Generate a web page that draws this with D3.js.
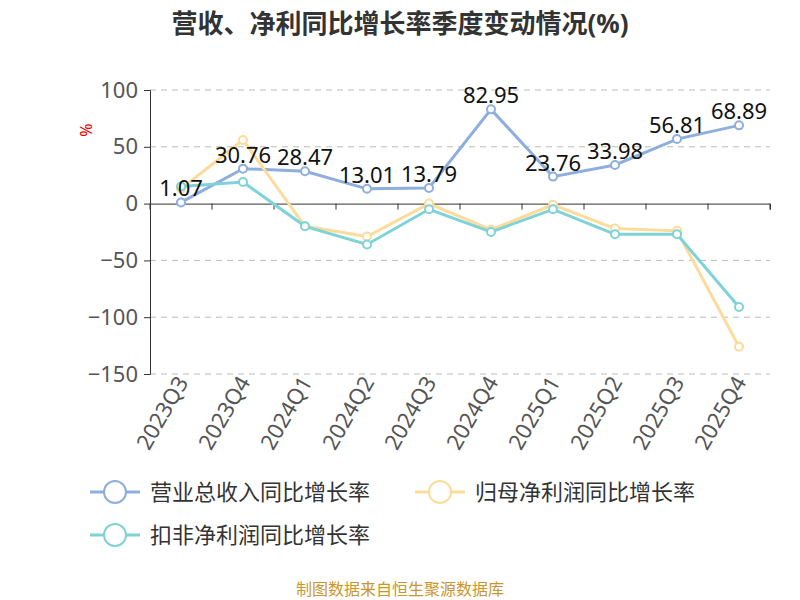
<!DOCTYPE html>
<html><head><meta charset="utf-8">
<script src="https://cdn.jsdelivr.net/npm/d3@7"></script>
<style>body{margin:0;background:#fff}text{font-family:"Noto Sans","Noto Sans CJK SC",sans-serif}</style>
</head><body><svg id="c" width="800" height="600"></svg>
<script>
const quarters = ['2023Q3','2023Q4','2024Q1','2024Q2','2024Q3','2024Q4','2025Q1','2025Q2','2025Q3','2025Q4'];
const revenue = [1.07,30.76,28.47,13.01,13.79,82.95,23.76,33.98,56.81,68.89];
const netProfit = [13,56,-20,-29,0,-23,-1,-22,-24,-126];
const deductedProfit = [15,19,-20,-36,-5,-25,-5,-27,-27,-91];
const yTicks = [100,50,0,-50,-100,-150];

const svg = d3.select('#c');
const x = d3.scaleBand().domain(quarters).range([150,770]);
const cx = d => x(d) + x.bandwidth()/2;
const y = d3.scaleLinear().domain([-150,100]).range([374,90]);

svg.append('text').attr('x',400).attr('y',33).attr('text-anchor','middle')
  .attr('font-size',26).attr('font-weight','bold').attr('fill','#333').text('营收、净利同比增长率季度变动情况(%)');

svg.selectAll('.grid').data(yTicks.filter(t=>t!==0)).enter().append('line')
  .attr('x1',150).attr('x2',770).attr('y1',d=>y(d)).attr('y2',d=>y(d))
  .attr('stroke','#bbb').attr('stroke-dasharray','6,5');

const ya = svg.append('g').attr('transform','translate(150,0)')
  .call(d3.axisLeft(y).tickValues(yTicks).tickSize(6).tickPadding(6));
ya.selectAll('text').attr('font-size',22).attr('fill','#555');
ya.selectAll('line,path').attr('stroke','#333');

const xa = svg.append('g').attr('transform',`translate(0,${y(0)})`)
  .call(d3.axisBottom(x).tickSize(6).tickFormat(''));
xa.selectAll('line,path').attr('stroke','#333');
xa.selectAll('.tick line').attr('transform',`translate(${x.bandwidth()/2},0)`);
svg.append('line').attr('x1',150).attr('x2',150).attr('y1',y(0)).attr('y2',y(0)+6).attr('stroke','#333');

quarters.forEach(q=>{
  svg.append('text').attr('transform',`translate(${cx(q)+8},${382}) rotate(-60)`)
    .attr('text-anchor','end').attr('font-size',22).attr('fill','#555').text(q);
});

svg.append('text').attr('transform','translate(92,130) rotate(-90)').attr('text-anchor','middle')
  .attr('font-size',16).attr('fill','#e00').text('%');

const series = [
  {name:'营业总收入同比增长率', data:revenue, color:'#8eaedd'},
  {name:'归母净利润同比增长率', data:netProfit, color:'#fddb9b'},
  {name:'扣非净利润同比增长率', data:deductedProfit, color:'#7fd3d6'}
];
const line = d3.line().x((d,i)=>cx(quarters[i])).y(d=>y(d));
series.forEach(s=>{
  svg.append('path').attr('d',line(s.data)).attr('fill','none').attr('stroke',s.color).attr('stroke-width',3);
  svg.selectAll(null).data(s.data).enter().append('circle')
    .attr('cx',(d,i)=>cx(quarters[i])).attr('cy',d=>y(d)).attr('r',4)
    .attr('fill','#fff').attr('stroke',s.color).attr('stroke-width',2);
});
svg.selectAll(null).data(revenue).enter().append('text')
  .attr('x',(d,i)=>cx(quarters[i])).attr('y',d=>y(d)-6).attr('text-anchor','middle')
  .attr('font-size',22).attr('fill','#111').text(d=>d.toFixed(2));

const legPos = [[90,492],[415,492],[90,535]];
series.forEach((s,i)=>{
  const [lx,ly] = legPos[i];
  const g = svg.append('g');
  g.append('line').attr('x1',lx).attr('x2',lx+50).attr('y1',ly).attr('y2',ly).attr('stroke',s.color).attr('stroke-width',3);
  g.append('circle').attr('cx',lx+25).attr('cy',ly).attr('r',11).attr('fill','#fff').attr('stroke',s.color).attr('stroke-width',2);
  g.append('text').attr('x',lx+60).attr('y',ly+8).attr('font-size',22).attr('fill','#333').text(s.name);
});

svg.append('text').attr('x',400).attr('y',595).attr('text-anchor','middle')
  .attr('font-size',16).attr('fill','#c9962e').text('制图数据来自恒生聚源数据库');
</script></body></html>
